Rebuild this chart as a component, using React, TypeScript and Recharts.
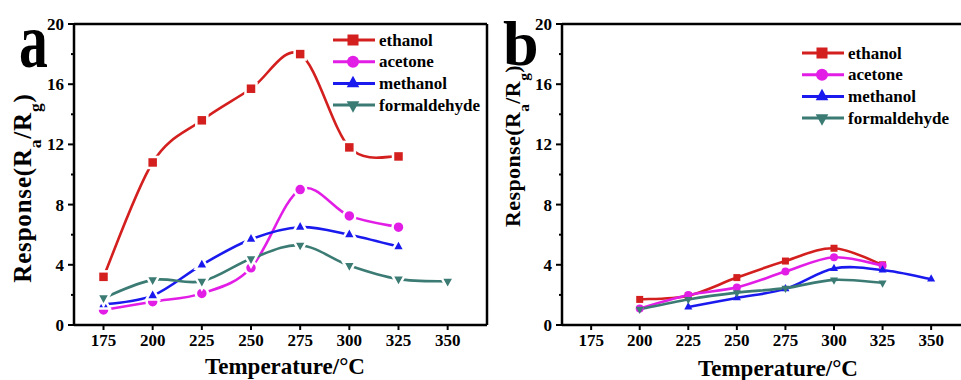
import React from 'react';
import { LineChart, Line, XAxis, YAxis, ReferenceLine, Legend } from 'recharts';

document.body.style.margin = '0';

const temperatures = [175, 200, 225, 250, 275, 300, 325, 350];
const yTicks = [0, 2, 4, 6, 8, 10, 12, 14, 16, 18, 20];

// panel a
const ethanolA = [3.2, 10.8, 13.6, 15.7, 18.0, 11.8, 11.2, null];
const acetoneA = [1.0, 1.55, 2.1, 3.8, 9.0, 7.25, 6.5, null];
const methanolA = [1.35, 1.95, 4.0, 5.7, 6.5, 6.0, 5.2, null];
const formaldehydeA = [1.8, 3.0, 2.9, 4.4, 5.3, 3.95, 3.05, 2.9];

// panel b
const ethanolB = [null, 1.7, 1.95, 3.15, 4.25, 5.1, 4.0, null];
const acetoneB = [null, 1.1, 2.0, 2.5, 3.55, 4.5, 3.95, null];
const methanolB = [null, null, 1.2, 1.8, 2.4, 3.75, 3.65, 3.05];
const formaldehydeB = [null, 1.05, 1.7, 2.15, 2.45, 3.0, 2.8, null];

const seriesNames = ['ethanol', 'acetone', 'methanol', 'formaldehyde'];
const seriesColors = ['#d41f1f', '#e21ee6', '#1a1aee', '#3b7b74'];
const seriesShapes = ['square', 'circle', 'triangle', 'triangleDown'];

const FONT = '"Liberation Serif", "Times New Roman", serif';

type Pt = { t: number; v: number };

const toPoints = (vals: (number | null)[]): Pt[] =>
  temperatures
    .map((t, i) => ({ t, v: vals[i] as number }))
    .filter((p) => p.v != null);

// Catmull-Rom style spline (like the origin plot's smoothing)
const catmullRom = (context: any) => {
  let pts: number[][] = [];
  return {
    areaStart() {},
    areaEnd() {},
    lineStart() {
      pts = [];
    },
    point(x: number, y: number) {
      pts.push([+x, +y]);
    },
    lineEnd() {
      const n = pts.length;
      if (!n) return;
      context.moveTo(pts[0][0], pts[0][1]);
      for (let i = 0; i < n - 1; i++) {
        const p0 = pts[i - 1] || pts[i];
        const p1 = pts[i];
        const p2 = pts[i + 1];
        const p3 = pts[i + 2] || p2;
        context.bezierCurveTo(
          p1[0] + (p2[0] - p0[0]) / 6,
          p1[1] + (p2[1] - p0[1]) / 6,
          p2[0] - (p3[0] - p1[0]) / 6,
          p2[1] - (p3[1] - p1[1]) / 6,
          p2[0],
          p2[1]
        );
      }
    },
  };
};

const Marker = ({ shape, cx, cy, color, s, outline }: any) => {
  const sw = outline ? 2.5 : 0;
  const st = outline ? '#fff' : 'none';
  if (shape === 'square') {
    return <rect x={cx - s / 2} y={cy - s / 2} width={s} height={s} fill={color} stroke={st} strokeWidth={sw} />;
  }
  if (shape === 'circle') {
    return <circle cx={cx} cy={cy} r={s / 2 + 0.5} fill={color} stroke={st} strokeWidth={sw} />;
  }
  const w = s * 1.15;
  const h = s * 1.05;
  const pts =
    shape === 'triangle'
      ? `${cx},${cy - (h * 2) / 3} ${cx - w / 2},${cy + h / 3} ${cx + w / 2},${cy + h / 3}`
      : `${cx},${cy + (h * 2) / 3} ${cx - w / 2},${cy - h / 3} ${cx + w / 2},${cy - h / 3}`;
  return <polygon points={pts} fill={color} stroke={st} strokeWidth={sw} />;
};

const makeDot = (shape: string, color: string, s: number, outline: boolean) => (props: any) => {
  const { cx, cy, index } = props;
  if (cx == null || cy == null) return <g key={`d-${index}`} />;
  return (
    <g key={`d-${index}`}>
      <Marker shape={shape} cx={cx} cy={cy} color={color} s={s} outline={outline} />
    </g>
  );
};

const YTick = (props: any) => {
  const { x, y, payload } = props;
  const axisX = x + 9;
  const major = payload.value % 4 === 0;
  return (
    <g>
      <line x1={axisX - (major ? 6 : 3)} x2={axisX} y1={y} y2={y} stroke="#000" strokeWidth={2} />
      {major && (
        <text x={axisX - 10} y={y} dy="0.35em" textAnchor="end" fontFamily={FONT} fontWeight="bold" fontSize={17} fill="#000">
          {payload.value}
        </text>
      )}
    </g>
  );
};

const LegendBox = ({ markerSize }: { markerSize: number }) => (
  <svg width={170} height={95} style={{ overflow: 'visible' }}>
    {seriesNames.map((name, i) => {
      const y = 8 + i * 21.7;
      return (
        <g key={name}>
          <line x1={0} x2={42} y1={y} y2={y} stroke={seriesColors[i]} strokeWidth={3} />
          <Marker shape={seriesShapes[i]} cx={20} cy={y} color={seriesColors[i]} s={markerSize} outline={false} />
          <text x={46} y={y} dy="0.33em" fontFamily={FONT} fontWeight="bold" fontSize={17} fill="#000">
            {name}
          </text>
        </g>
      );
    })}
  </svg>
);

interface PanelProps {
  series: (number | null)[][];
  marginLeft: number;
  marginRight: number;
  width: number;
  markerSize: number;
  legendLeft: number;
  legendTop: number;
  legendMarker: number;
  outline: boolean;
}

const Panel: React.FC<PanelProps> = ({ series, marginLeft, marginRight, width, markerSize, legendLeft, legendTop, legendMarker, outline }) => (
  <LineChart width={width} height={380} margin={{ top: 24, right: marginRight, bottom: 25, left: marginLeft }}>
    <XAxis
      type="number"
      dataKey="t"
      domain={[160, 370]}
      ticks={temperatures}
      allowDataOverflow
      interval={0}
      height={30}
      axisLine={{ stroke: '#000', strokeWidth: 2.5 }}
      tickLine={{ stroke: '#000', strokeWidth: 2 }}
      tickSize={5}
      tickMargin={4}
      tick={{ fill: '#000', fontSize: 17, fontWeight: 'bold', fontFamily: FONT }}
    />
    <YAxis
      type="number"
      domain={[0, 20]}
      ticks={yTicks}
      interval={0}
      width={44}
      allowDataOverflow
      axisLine={{ stroke: '#000', strokeWidth: 2.5 }}
      tickLine={false}
      tickSize={6}
      tickMargin={3}
      tick={<YTick />}
    />
    <ReferenceLine y={20} stroke="#000" strokeWidth={2.5} />
    <ReferenceLine x={370} stroke="#000" strokeWidth={2.5} />
    <Legend
      layout="vertical"
      align="center"
      verticalAlign="middle"
      wrapperStyle={{ position: 'absolute', left: legendLeft, top: legendTop, width: 170 }}
      content={() => <LegendBox markerSize={legendMarker} />}
    />
    {series.map((vals, i) => (
      <Line
        key={seriesNames[i]}
        data={toPoints(vals)}
        dataKey="v"
        name={seriesNames[i]}
        type={catmullRom as any}
        stroke={seriesColors[i]}
        strokeWidth={2.6}
        dot={makeDot(seriesShapes[i], seriesColors[i], markerSize, outline)}
        activeDot={false}
        isAnimationActive={false}
      />
    ))}
  </LineChart>
);

const ResponseLabel = ({ x, y, size, spacing }: { x: number; y: number; size: number; spacing: number }) => (
  <text
    x={x}
    y={y}
    transform={`rotate(-90 ${x} ${y})`}
    textAnchor="middle"
    fontFamily={FONT}
    fontWeight="bold"
    fontSize={size}
    letterSpacing={spacing}
    fill="#000"
  >
    Response(R
    <tspan baselineShift="sub" fontSize={size * 0.7}>a</tspan>
    /R
    <tspan baselineShift="sub" fontSize={size * 0.7}>g</tspan>)
  </text>
);

export default function App() {
  return (
    <div style={{ position: 'relative', width: 961, height: 380, overflow: 'hidden', background: '#fff' }}>
      <div style={{ position: 'absolute', left: 0, top: 0 }}>
        <Panel
          series={[ethanolA, acetoneA, methanolA, formaldehydeA]}
          marginLeft={30}
          marginRight={13}
          width={500}
          markerSize={11}
          legendLeft={333}
          legendTop={32}
          legendMarker={11}
          outline
        />
      </div>
      <div style={{ position: 'absolute', left: 480, top: 0 }}>
        <Panel
          series={[ethanolB, acetoneB, methanolB, formaldehydeB]}
          marginLeft={38}
          marginRight={10}
          width={500}
          markerSize={7}
          legendLeft={322}
          legendTop={45}
          legendMarker={11}
          outline={false}
        />
      </div>
      <svg width={961} height={380} style={{ position: 'absolute', left: 0, top: 0, pointerEvents: 'none' }}>
        <text transform="translate(19,67) scale(0.74,1)" fontFamily={FONT} fontWeight="bold" fontSize={78} fill="#000">a</text>
        <text x={503} y={65} fontFamily={FONT} fontWeight="bold" fontSize={64} fill="#000">b</text>
        <ResponseLabel x={31} y={188} size={25} spacing={0.8} />
        <ResponseLabel x={520} y={146} size={22} spacing={0.4} />
        <text x={285} y={374} textAnchor="middle" fontFamily={FONT} fontWeight="bold" fontSize={23} fill="#000">
          Temperature/°C
        </text>
        <text x={778} y={376} textAnchor="middle" fontFamily={FONT} fontWeight="bold" fontSize={23} fill="#000">
          Temperature/°C
        </text>
      </svg>
    </div>
  );
}
